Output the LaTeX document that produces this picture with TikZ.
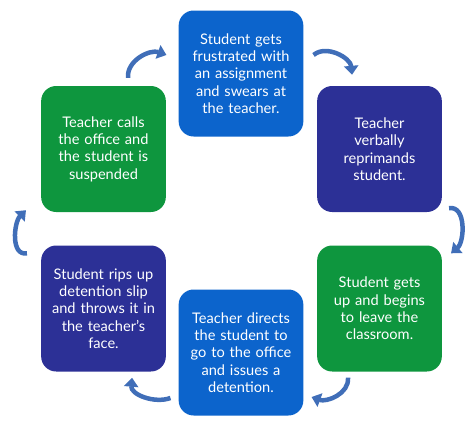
\documentclass[tikz,border=0pt]{standalone}
\usepackage{fontspec}
\setmainfont{Lato}
\usetikzlibrary{arrows.meta}
\definecolor{boxblue}{RGB}{12,100,204}
\definecolor{boxindigo}{RGB}{44,48,150}
\definecolor{boxgreen}{RGB}{14,150,62}
\definecolor{cycblue}{RGB}{64,110,184}
\begin{document}
\begin{tikzpicture}[x=1pt, y=1pt,
    stepbox/.style={rectangle, rounded corners=15pt, minimum width=122pt, minimum height=126pt,
      text width=118pt, align=center, text=white, font=\fontsize{14.6}{17.4}\selectfont},
    cyc/.style={draw=cycblue, line width=4.5pt, -{Triangle[length=9pt, width=14pt]}}]
      \useasboundingbox (0, 0) rectangle (474, -426);

      \node[stepbox, fill=boxblue] (sgf) at (241, -73.5) {Student gets\\frustrated with\\an assignment\\and swears at\\the teacher.};
      \node[stepbox, fill=boxindigo] (tvr) at (379.5, -149) {Teacher\\verbally\\reprimands\\student.};
      \node[stepbox, fill=boxgreen] (sgu) at (379.5, -308.5) {Student gets\\up and begins\\to leave the\\classroom.};
      \node[stepbox, fill=boxblue] (tdo) at (241, -352.5) {Teacher directs\\the student to\\go to the office\\and issues a\\detention.};
      \node[stepbox, fill=boxindigo] (srd) at (103.5, -308.5) {Student rips up\\detention slip\\and throws it in\\the teacher’s\\face.};
      \node[stepbox, fill=boxgreen] (tco) at (103.5, -149) {Teacher calls\\the office and\\the student is\\suspended};

      \draw[cyc] ([shift={(24.5, 8)}]tco.north) to[out=95, in=160] ([shift={(-12, 18.5)}]sgf.west);
      \draw[cyc] ([shift={(10, 18.5)}]sgf.east) to[out=40, in=95] ([shift={(-27.5, 11)}]tvr.north);
      \draw[cyc] ([shift={(7, 4)}]tvr.south east) to[out=10, in=40] ([shift={(9, -8)}]sgu.north east);
      \draw[cyc] ([shift={(-31.5, -6)}]sgu.south) to[out=-85, in=-20] ([shift={(8, -44.5)}]tdo.east);
      \draw[cyc] ([shift={(-8, -45.5)}]tdo.west) to[out=200, in=-95] ([shift={(28.5, -6)}]srd.south);
      \draw[cyc] ([shift={(-14, -8)}]srd.north west) to[out=190, in=225] ([shift={(-15, 2)}]tco.south west);
    \end{tikzpicture}
\end{document}
